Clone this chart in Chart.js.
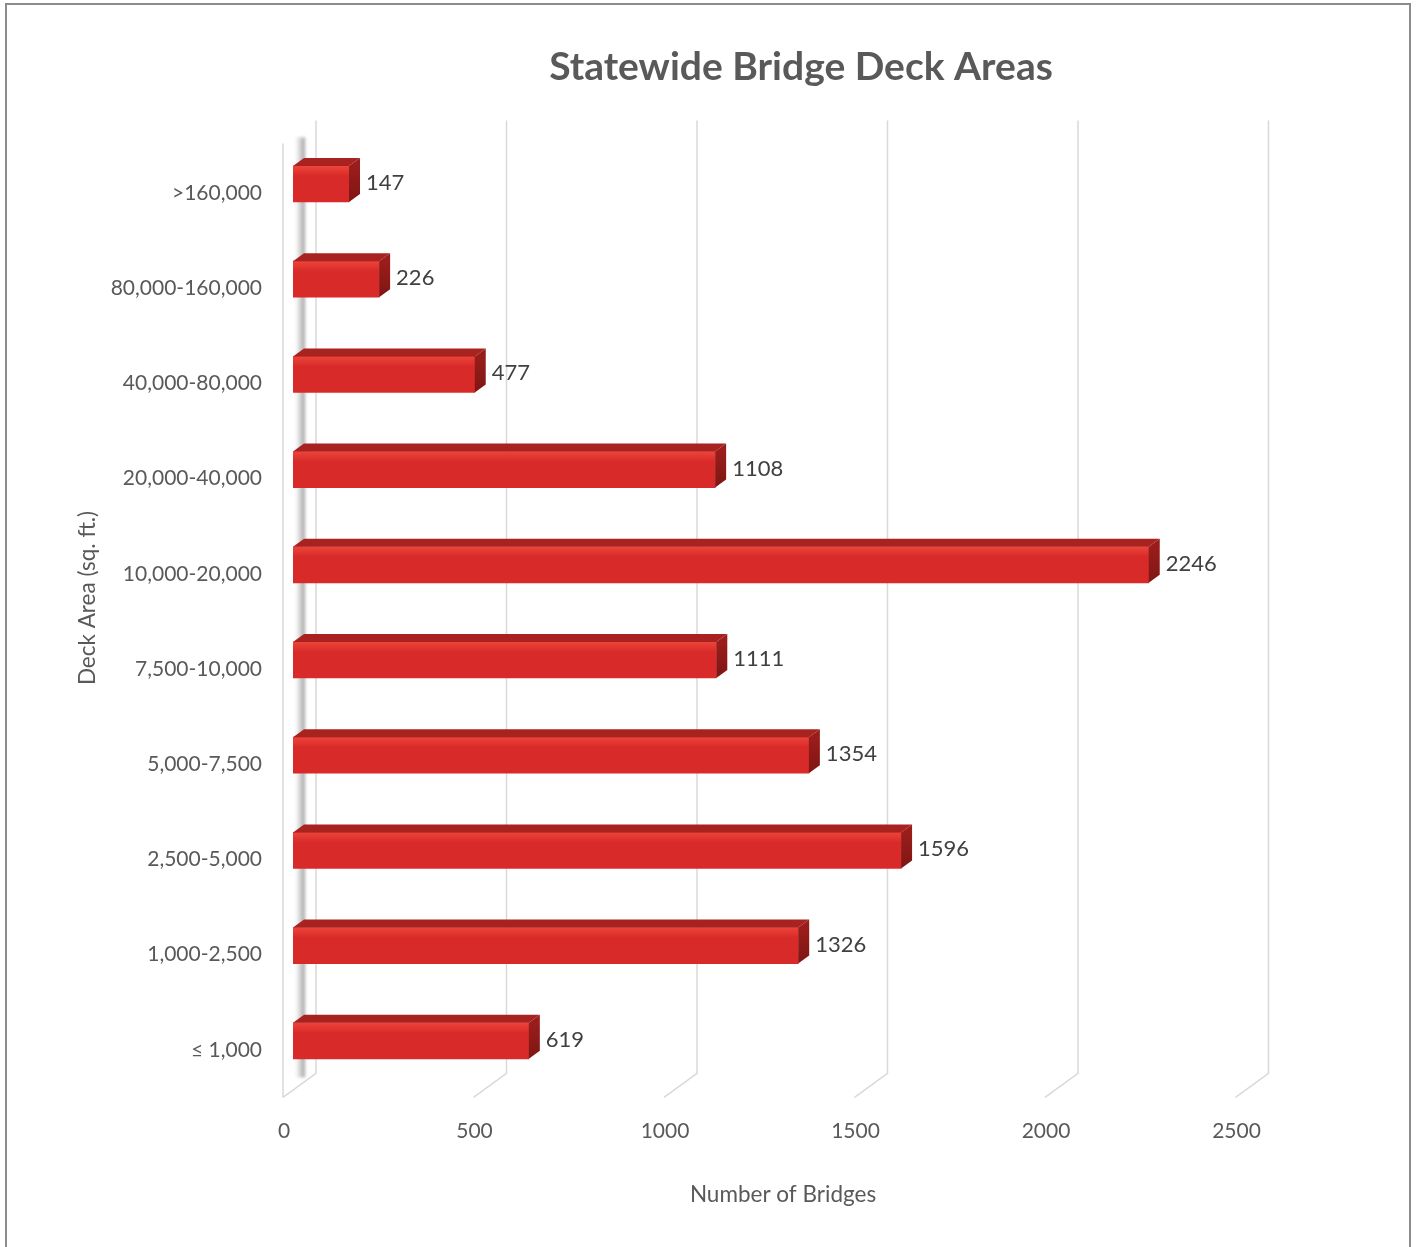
<!DOCTYPE html>
<html>
<head>
<meta charset="utf-8">
<title>Statewide Bridge Deck Areas</title>
<script src="https://cdn.jsdelivr.net/npm/chart.js@4.4.0/dist/chart.umd.min.js"></script>
<style>
  html, body { margin: 0; padding: 0; background: #fff; }
  #wrap { position: relative; width: 1421px; height: 1247px; overflow: hidden; }
  #wrap canvas { position: absolute; left: 0; top: 0; }
  #frame { position: absolute; left: 5px; top: 3px; width: 1406px; height: 1300px;
           border: 2px solid #8c8c8c; box-sizing: border-box; pointer-events: none; }
</style>
</head>
<body>
<div id="wrap">
  <canvas id="deckGraph" width="1421" height="1247"></canvas>
  <div id="frame"></div>
</div>
<script>
// deck area buckets, top to bottom
var deckLabels = ['>160,000', '80,000-160,000', '40,000-80,000', '20,000-40,000', '10,000-20,000',
                  '7,500-10,000', '5,000-7,500', '2,500-5,000', '1,000-2,500', '\u2264 1,000'];
var bridgeCounts = [147, 226, 477, 1108, 2246, 1111, 1354, 1596, 1326, 619];
var countTicks = [0, 500, 1000, 1500, 2000, 2500];

var textGrey = '#595959';
var fontName = 'Lato, "Open Sans", sans-serif';

// fake 3D: depth of the bars and offsets of the back wall / front edge
var barDepthX = 11, barDepthY = 8;
var backShift = 23, frontShift = -10;

var wallPlugin = {
    id: 'wall3d',
    beforeDatasetsDraw: function(chart) {
        var ctx = chart.ctx, area = chart.chartArea, xs = chart.scales.x;
        ctx.save();
        ctx.strokeStyle = '#d9d9d9';
        ctx.lineWidth = 1.5;
        countTicks.forEach(function(v) {
            var bx = xs.getPixelForValue(v) + backShift;
            ctx.beginPath();
            ctx.moveTo(bx, area.top - 16);
            ctx.lineTo(bx, area.bottom - 15);
            ctx.lineTo(xs.getPixelForValue(v) + frontShift, area.bottom + 9);
            ctx.stroke();
        });
        // front edge of the side wall
        var fx = xs.getPixelForValue(0) + frontShift;
        ctx.beginPath();
        ctx.moveTo(fx, area.top + 7);
        ctx.lineTo(fx, area.bottom + 9);
        ctx.stroke();

        // shaded strip of the side wall, soft edged
        var sx = xs.getPixelForValue(0) + 2;
        var g = ctx.createLinearGradient(sx, 0, sx + 11, 0);
        g.addColorStop(0, 'rgba(170,170,170,0)');
        g.addColorStop(0.6, 'rgba(150,150,150,0.55)');
        g.addColorStop(0.85, 'rgba(130,130,130,0.7)');
        g.addColorStop(1, 'rgba(200,200,200,0)');
        ctx.filter = 'blur(1.5px)';
        ctx.fillStyle = g;
        ctx.fillRect(sx, area.top + 1, 11, area.height - 12);
        ctx.filter = 'none';
        ctx.restore();
    },
    afterDatasetsDraw: function(chart) {
        var ctx = chart.ctx;
        var meta = chart.getDatasetMeta(0);
        ctx.save();
        meta.data.forEach(function(bar, i) {
            var top = bar.y - bar.height / 2, bottom = bar.y + bar.height / 2;
            // light band along the upper edge of the front face
            var hg = ctx.createLinearGradient(0, top, 0, top + 10);
            hg.addColorStop(0, 'rgba(240,70,60,0.9)');
            hg.addColorStop(1, 'rgba(240,70,60,0)');
            ctx.fillStyle = hg;
            ctx.fillRect(bar.base, top, bar.x - bar.base, 10);
            // top face
            ctx.fillStyle = '#a82220';
            ctx.beginPath();
            ctx.moveTo(bar.base, top);
            ctx.lineTo(bar.x, top);
            ctx.lineTo(bar.x + barDepthX, top - barDepthY);
            ctx.lineTo(bar.base + barDepthX, top - barDepthY);
            ctx.closePath();
            ctx.fill();
            // end face
            var sg = ctx.createLinearGradient(0, top, 0, bottom);
            sg.addColorStop(0, '#9a1d1b');
            sg.addColorStop(1, '#7e1614');
            ctx.fillStyle = sg;
            ctx.beginPath();
            ctx.moveTo(bar.x, top);
            ctx.lineTo(bar.x + barDepthX, top - barDepthY);
            ctx.lineTo(bar.x + barDepthX, bottom - barDepthY);
            ctx.lineTo(bar.x, bottom);
            ctx.closePath();
            ctx.fill();

            // value label
            ctx.fillStyle = '#404040';
            ctx.font = '22px ' + fontName;
            ctx.textAlign = 'left';
            ctx.textBaseline = 'middle';
            ctx.fillText(String(bridgeCounts[i]), bar.x + barDepthX + 6, bar.y - 1);
        });
        ctx.restore();
    },
    afterDraw: function(chart) {
        var ctx = chart.ctx;
        ctx.save();
        ctx.fillStyle = textGrey;
        ctx.textAlign = 'center';
        ctx.textBaseline = 'middle';
        ctx.font = 'bold 39px ' + fontName;
        ctx.fillText('Statewide Bridge Deck Areas', 801, 67);
        ctx.font = '22.5px ' + fontName;
        ctx.fillText('Number of Bridges', 783, 1195);
        ctx.translate(88, 598);
        ctx.rotate(-Math.PI / 2);
        ctx.fillText('Deck Area (sq. ft.)', 0, 0);
        ctx.restore();
    }
};

var deckConfig = {
    type: 'bar',
    data: {
        labels: deckLabels,
        datasets: [{
            data: bridgeCounts,
            backgroundColor: '#d82b29',
            borderWidth: 0,
            barThickness: 36
        }]
    },
    options: {
        indexAxis: 'y',
        responsive: false,
        animation: false,
        layout: {
            padding: { left: 0, top: 136.4, right: 175.5, bottom: 78.6 }
        },
        plugins: {
            legend: { display: false },
            title: { display: false },
            tooltip: { enabled: false }
        },
        scales: {
            x: {
                min: 0,
                max: 2500,
                afterFit: function(scale) { scale.height = 80; },
                afterBuildTicks: function(scale) {
                    scale.ticks = countTicks.map(function(v) { return { value: v }; });
                },
                grid: { display: false, drawTicks: false },
                border: { display: false },
                ticks: {
                    color: textGrey,
                    font: { family: fontName, size: 21 },
                    padding: 30,
                    labelOffset: -9,
                    callback: function(v) { return String(v); }
                }
            },
            y: {
                afterFit: function(scale) { scale.width = 293; },
                grid: { display: false, drawTicks: false },
                border: { display: false },
                ticks: {
                    color: textGrey,
                    font: { family: fontName, size: 21 },
                    padding: 31,
                    labelOffset: 9
                }
            }
        }
    },
    plugins: [wallPlugin]
};

var deckCtx = document.getElementById('deckGraph');
var deckChart = new Chart(deckCtx, deckConfig);
</script>
</body>
</html>
